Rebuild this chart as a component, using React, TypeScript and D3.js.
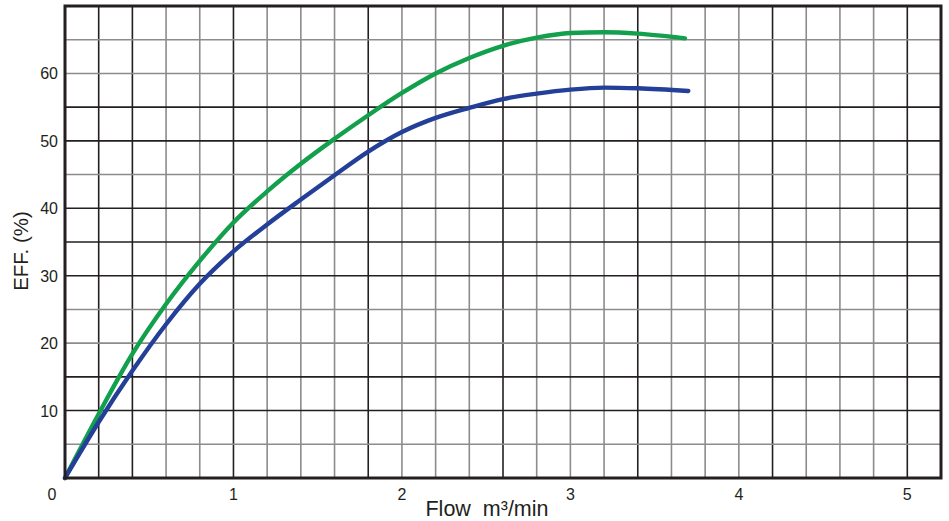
import React from 'react';
import * as d3 from 'd3';

// efficiency curves
const greenFlow = [0, 0.2, 0.4, 0.6, 0.8, 1.0, 1.2, 1.4, 1.6, 1.8, 2.0, 2.2, 2.4, 2.6, 2.8, 3.0, 3.2, 3.4, 3.68];
const greenEff = [0, 9.5, 18.4, 25.8, 32.2, 37.9, 42.5, 46.6, 50.3, 53.8, 57.1, 60.0, 62.3, 64.1, 65.3, 66.0, 66.1, 65.9, 65.2];

const blueFlow = [0, 0.2, 0.4, 0.6, 0.8, 1.0, 1.2, 1.4, 1.6, 1.8, 2.0, 2.2, 2.4, 2.6, 2.8, 3.0, 3.2, 3.4, 3.7];
const blueEff = [0, 8.3, 15.9, 22.8, 28.8, 33.6, 37.6, 41.3, 44.9, 48.4, 51.3, 53.4, 54.9, 56.2, 57.0, 57.6, 57.9, 57.8, 57.4];

const xTicks = [1, 2, 3, 4, 5];
const yTicks = [10, 20, 30, 40, 50, 60];

// which grid lines are printed darker
const darkV = [1, 2, 5, 9, 13, 17, 21, 25];
const darkH = [2, 3, 6, 7, 8, 10, 11];

const W = 949;
const H = 521;
const m = { top: 6, right: 8, bottom: 43, left: 65 };

export default function App() {
  const x = d3.scaleLinear().domain([0, 5.2]).range([m.left, W - m.right]);
  const y = d3.scaleLinear().domain([0, 70]).range([H - m.bottom, m.top]);

  const line = d3
    .line<[number, number]>()
    .x((d) => x(d[0]))
    .y((d) => y(d[1]))
    .curve(d3.curveMonotoneX);

  const green = greenFlow.map((f, i) => [f, greenEff[i]] as [number, number]);
  const blue = blueFlow.map((f, i) => [f, blueEff[i]] as [number, number]);

  const vLines = d3.range(1, 26);
  const hLines = d3.range(1, 14);
  const ink = '#231f20';
  const font = '"Liberation Sans", Arial, sans-serif';

  return (
    <>
      <style>{`body{margin:0}`}</style>
      <svg width={W} height={H} style={{ display: 'block', background: '#fff' }}>
        <g>
          {vLines.map((i) => (
            <line
              key={'v' + i}
              x1={x(i * 0.2)}
              x2={x(i * 0.2)}
              y1={y(0)}
              y2={y(70)}
              stroke={darkV.includes(i) ? ink : '#8c8c8c'}
              strokeWidth={1.6}
            />
          ))}
          {hLines.map((j) => (
            <line
              key={'h' + j}
              x1={x(0)}
              x2={x(5.2)}
              y1={y(j * 5)}
              y2={y(j * 5)}
              stroke={darkH.includes(j) ? ink : '#8c8c8c'}
              strokeWidth={1.6}
            />
          ))}
        </g>
        <path d={line(green) || ''} fill="none" stroke="#12a04c" strokeWidth={4.4} strokeLinecap="round" />
        <path d={line(blue) || ''} fill="none" stroke="#233f98" strokeWidth={4.4} strokeLinecap="round" />
        <rect
          x={x(0)}
          y={y(70)}
          width={x(5.2) - x(0)}
          height={y(0) - y(70)}
          fill="none"
          stroke={ink}
          strokeWidth={3}
        />
        <g fontFamily={font} fontSize={16} fill={ink}>
          <text x={x(0) - 13} y={y(0) + 22} textAnchor="middle">0</text>
          {xTicks.map((t) => (
            <text key={t} x={x(t)} y={y(0) + 22} textAnchor="middle">
              {t}
            </text>
          ))}
          {yTicks.map((t) => (
            <text key={t} x={m.left - 7} y={y(t) + 6} textAnchor="end">
              {t}
            </text>
          ))}
        </g>
        <text
          x={487}
          y={516}
          textAnchor="middle"
          fontFamily={font}
          fontSize={21.5}
          fill={ink}
          style={{ whiteSpace: 'pre' }}
        >
          {'Flow  m³/min'}
        </text>
        <text
          transform="translate(28,251) rotate(-90)"
          textAnchor="middle"
          fontFamily={font}
          fontSize={20.5}
          fill={ink}
        >
          EFF. (%)
        </text>
      </svg>
    </>
  );
}
